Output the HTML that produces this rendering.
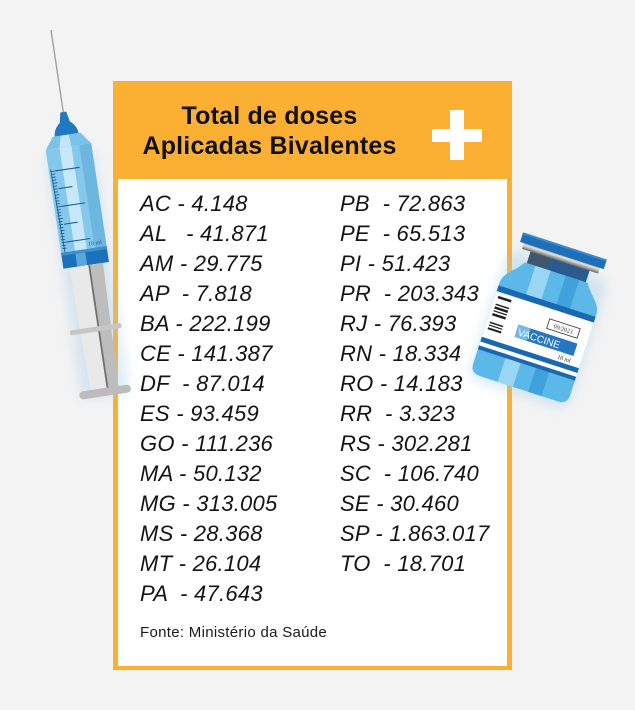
<!DOCTYPE html>
<html>
<head>
<meta charset="utf-8">
<style>
  html, body { margin:0; padding:0; }
  body { width:635px; height:710px; background:#f3f3f3; position:relative; overflow:hidden;
         font-family:"Liberation Sans", sans-serif; }
  .box { position:absolute; left:113px; top:81px; width:399px; height:589px; background:#fbb034; }
  .inner { position:absolute; left:118px; top:179px; width:389px; height:487px; background:#ffffff; }
  .title { position:absolute; left:113px; top:101px; width:313px; text-align:center;
           font-weight:bold; font-size:25px; line-height:30px; color:#111; letter-spacing:0.2px; }
  .plus-v { position:absolute; left:450px; top:110px; width:14px; height:50px; background:#fff; }
  .plus-h { position:absolute; left:432px; top:129px; width:50px; height:13px; background:#fff; }
  .col { position:absolute; top:189px; font-style:italic; font-size:22px; line-height:30px;
         color:#141414; white-space:pre; letter-spacing:0.25px; }
  .c1 { left:140px; }
  .c2 { left:340px; }
  .src { position:absolute; left:140px; top:624px; font-size:15px; line-height:18px; color:#1a1a1a;
         letter-spacing:0.3px; }
  svg.art { position:absolute; left:0; top:0; }
</style>
</head>
<body>
<div class="box"></div>
<div class="inner"></div>
<div class="title">Total de doses<br>Aplicadas Bivalentes</div>
<div class="plus-v"></div>
<div class="plus-h"></div>

<div class="col c1">AC - 4.148
AL   - 41.871
AM - 29.775
AP  - 7.818
BA - 222.199
CE - 141.387
DF  - 87.014
ES - 93.459
GO - 111.236
MA - 50.132
MG - 313.005
MS - 28.368
MT - 26.104
PA  - 47.643</div>

<div class="col c2">PB  - 72.863
PE  - 65.513
PI - 51.423
PR  - 203.343
RJ - 76.393
RN - 18.334
RO - 14.183
RR  - 3.323
RS - 302.281
SC  - 106.740
SE - 30.460
SP - 1.863.017
TO  - 18.701</div>

<div class="src">Fonte: Ministério da Saúde</div>

<svg class="art" width="635" height="710" viewBox="0 0 635 710" xmlns="http://www.w3.org/2000/svg">
  <defs>
    <filter id="glow" x="-50%" y="-50%" width="200%" height="200%">
      <feGaussianBlur stdDeviation="6"/>
    </filter>
    <linearGradient id="metal" x1="0" y1="0" x2="0" y2="1">
      <stop offset="0" stop-color="#7a7a7a"/>
      <stop offset="0.45" stop-color="#e2e2e2"/>
      <stop offset="1" stop-color="#6a6a6a"/>
    </linearGradient>
  </defs>

  <!-- Syringe -->
  <g transform="translate(51,30) rotate(-8.5)">
    <!-- glow -->
    <rect x="-24" y="120" width="48" height="250" rx="10" fill="#9cc8ea" opacity="0.35" filter="url(#glow)"/>
    <!-- needle -->
    <line x1="0" y1="0" x2="0" y2="88" stroke="#9c9c9c" stroke-width="1.3"/>
    <!-- hub -->
    <path d="M -3,83 L 3,83 L 5,93 Q 12,99 12,106 L -12,106 Q -12,99 -5,93 Z" fill="#1f78c1"/>
    <!-- shoulder -->
    <path d="M -14,106 L 14,106 L 23,118 L -23,118 Z" fill="#7cc3ea"/>
    <path d="M -6,106 L 2,106 L 3,118 L -9,118 Z" fill="#c2e6f8"/>
    <!-- barrel -->
    <rect x="-23" y="118" width="46" height="106" fill="#86c8ec"/>
    <rect x="-9" y="118" width="12" height="106" fill="#c6e8f8"/>
    <rect x="11" y="118" width="12" height="106" fill="#6cb6e0"/>
    <!-- graduations -->
    <g stroke="#1d5f94" stroke-width="0.9">
      <line x1="-21" y1="140" x2="-16" y2="140"/><line x1="-21" y1="143" x2="-17" y2="143"/>
      <line x1="-21" y1="146" x2="-17" y2="146"/><line x1="-21" y1="149" x2="-17" y2="149"/>
      <line x1="-21" y1="152" x2="-16" y2="152"/><line x1="-21" y1="155" x2="-17" y2="155"/>
      <line x1="-21" y1="158" x2="-17" y2="158"/><line x1="-21" y1="161" x2="-17" y2="161"/>
      <line x1="-21" y1="164" x2="-16" y2="164"/><line x1="-21" y1="167" x2="-17" y2="167"/>
      <line x1="-21" y1="170" x2="-17" y2="170"/><line x1="-21" y1="173" x2="-17" y2="173"/>
      <line x1="-21" y1="176" x2="-16" y2="176"/><line x1="-21" y1="179" x2="-17" y2="179"/>
      <line x1="-21" y1="182" x2="-17" y2="182"/><line x1="-21" y1="185" x2="-17" y2="185"/>
      <line x1="-21" y1="188" x2="-16" y2="188"/><line x1="-21" y1="191" x2="-17" y2="191"/>
      <line x1="-21" y1="194" x2="-17" y2="194"/><line x1="-21" y1="197" x2="-17" y2="197"/>
      <line x1="-21" y1="200" x2="-16" y2="200"/><line x1="-21" y1="203" x2="-17" y2="203"/>
      <line x1="-21" y1="206" x2="-17" y2="206"/><line x1="-21" y1="209" x2="-17" y2="209"/>
      <line x1="-21" y1="212" x2="-16" y2="212"/><line x1="-21" y1="215" x2="-17" y2="215"/>
      <line x1="-21" y1="218" x2="-17" y2="218"/>
      <line x1="-21" y1="138" x2="-19" y2="224"/>
    </g>
    <g stroke="#1d5f94" stroke-width="1.1">
      <line x1="-16" y1="140" x2="8" y2="140"/>
      <line x1="-16" y1="158" x2="-2" y2="158"/>
      <line x1="-16" y1="176" x2="8" y2="176"/>
      <line x1="-16" y1="194" x2="-2" y2="194"/>
      <line x1="-16" y1="212" x2="8" y2="212"/>
    </g>
    <text x="5" y="219" font-family="Liberation Serif, serif" font-size="6" fill="#1d5f94">10 ml</text>
    <!-- band -->
    <rect x="-23" y="222" width="46" height="16" fill="#1a72bb"/>
    <rect x="-9" y="222" width="10" height="16" fill="#5aa6dc"/>
    <rect x="-23" y="222" width="46" height="3" fill="#3d8fd0"/>
    <!-- plunger rod -->
    <path d="M -17,238 L 17,238 L 14,364 L -14,364 Z" fill="#e9e9e9"/>
    <path d="M 3,238 L 17,238 L 14,364 L 3,364 Z" fill="#bdbdbd"/>
    <line x1="3" y1="238" x2="3" y2="364" stroke="#707070" stroke-width="1.8"/>
    <!-- flange -->
    <rect x="-26" y="300" width="52" height="5" rx="2" fill="#c6c6c6"/>
    <!-- end cap -->
    <rect x="-26" y="362" width="52" height="8" rx="4" fill="#bcbcbc"/>
  </g>

  <!-- Vial -->
  <g transform="translate(565,246) rotate(18)">
    <rect x="-52" y="20" width="104" height="135" rx="12" fill="#8cc4ec" opacity="0.35" filter="url(#glow)"/>
    <!-- neck -->
    <rect x="-31" y="14" width="62" height="16" fill="#2a5b8e"/>
    <rect x="-31" y="14" width="20" height="16" fill="#3f566e"/>
    <!-- body with shoulder -->
    <path d="M -33,28 L 33,28 C 40,40 51,44 51,56 L 51,140 Q 51,150 41,150 L -41,150 Q -51,150 -51,140 L -51,56 C -51,44 -40,40 -33,28 Z" fill="#5db8ea"/>
    <!-- stripes -->
    <path d="M -22,28 L -6,28 L -6,150 L -22,150 Z" fill="#9ad6f4"/>
    <path d="M 10,28 L 24,28 L 24,150 L 10,150 Z" fill="#3fa2dd"/>
    <!-- label -->
    <rect x="-51" y="58" width="102" height="6" fill="#1a69b0"/>
    <rect x="-51" y="64" width="102" height="48" fill="#ffffff"/>
    <rect x="-51" y="112" width="102" height="5" fill="#1a69b0"/>
    <rect x="-51" y="117" width="102" height="4" fill="#ffffff"/>
    <rect x="-51" y="121" width="102" height="4" fill="#1a69b0"/>
    <!-- barcode -->
    <g fill="#222">
      <rect x="-48" y="68" width="14" height="2.5"/>
      <rect x="-48" y="76" width="14" height="1.5"/>
      <rect x="-48" y="79" width="14" height="2.5"/>
      <rect x="-48" y="83" width="14" height="1.2"/>
      <rect x="-48" y="86" width="14" height="2.5"/>
      <rect x="-48" y="95" width="14" height="1.5"/>
      <rect x="-48" y="98" width="14" height="1.2"/>
      <rect x="-48" y="101" width="14" height="2"/>
    </g>
    <!-- date box -->
    <rect x="8" y="74" width="32" height="10" fill="#fff" stroke="#333" stroke-width="0.8"/>
    <text x="24" y="81.5" font-family="Liberation Serif, serif" font-size="6" fill="#333" text-anchor="middle">09/2023</text>
    <!-- VACCINE box -->
    <rect x="-20" y="89" width="62" height="13" fill="#2577c0"/>
    <rect x="-20" y="89" width="13" height="13" fill="#7ab8e3"/>
    <text x="-18" y="99.5" font-family="Liberation Sans, sans-serif" font-size="10" fill="#ffffff">VACCINE</text>
    <text x="27" y="109.5" font-family="Liberation Serif, serif" font-size="6" fill="#222">10 ml</text>
    <!-- metal ring -->
    <rect x="-40" y="8" width="80" height="8" fill="url(#metal)"/>
    <!-- cap -->
    <rect x="-44" y="0" width="88" height="10" fill="#1f6fb8"/>
    <rect x="-44" y="0" width="88" height="2" fill="#3a8ad0"/>
  </g>
</svg>
</body>
</html>
